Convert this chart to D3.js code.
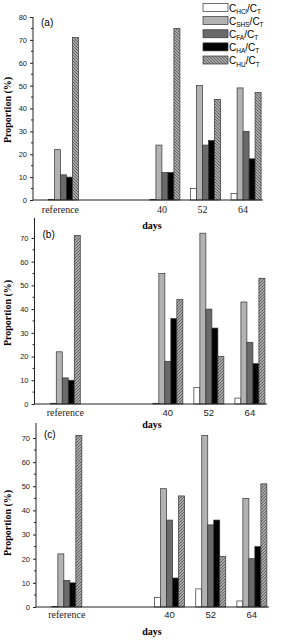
<!DOCTYPE html>
<html lang="en">
<head>
<meta charset="UTF-8">
<title>Proportion of humus fractions</title>
<style>
    body { margin: 0; padding: 0; background: #fff; }
    svg { display: block; }
    .tick text { font-family: "Liberation Sans", Arial, sans-serif; font-size: 7.5px; fill: #222; }
    .ylab { font-family: "Liberation Serif", "Times New Roman", serif; font-weight: bold; font-size: 10px; }
    .xlab { font-family: "Liberation Serif", "Times New Roman", serif; font-weight: bold; font-size: 10px; }
    .panel { font-family: "Liberation Sans", Arial, sans-serif; font-size: 10px; }
    .legend text { font-family: "Liberation Sans", Arial, sans-serif; font-size: 10px; }
</style>
</head>
<body>
<svg id="chart" width="286" height="641"></svg>
<script src="https://d3js.org/d3.v7.min.js"></script>
<script>
// categories (day of sampling, "reference" sits before day 40)
const categories = ["reference", "40", "52", "64"];
const dayPos = [10, 40, 52, 64];
const series = ["HCl", "SHS", "FA", "HA", "HU"];

// proportions (%) per series, one value per category
const panelA = {
    HCl: [0.3, 0.3, 5, 2.8],
    SHS: [22, 24, 50, 49],
    FA:  [11, 12, 24, 30],
    HA:  [10, 12, 26, 18],
    HU:  [71, 75, 44, 47]
};
const panelB = {
    HCl: [0.3, 0.3, 7, 2.5],
    SHS: [22, 55, 72, 43],
    FA:  [11, 18, 40, 26],
    HA:  [10, 36, 32, 17],
    HU:  [71, 44, 20, 53]
};
const panelC = {
    HCl: [0.2, 4, 7.5, 2.5],
    SHS: [22, 49, 71, 45],
    FA:  [11, 36, 34, 20],
    HA:  [10, 12, 36, 25],
    HU:  [71, 46, 21, 51]
};
const yTicksA = [0, 10, 20, 30, 40, 50, 60, 70, 80];
const yTicksBC = [0, 10, 20, 30, 40, 50, 60, 70];

const fills = { HCl: "#ffffff", SHS: "#b2b2b2", FA: "#6a6a6a", HA: "#000000" };

const svg = d3.select("#chart");
const defs = svg.append("defs");

// hatch patterns: back slash for (a), forward slash for (b) and (c)
function hatch(id, forward) {
    const p = defs.append("pattern")
        .attr("id", id)
        .attr("patternUnits", "userSpaceOnUse")
        .attr("width", 3).attr("height", 3);
    p.append("rect").attr("width", 3).attr("height", 3).attr("fill", "#a8a8a8");
    if (forward) {
        p.append("path").attr("d", "M-1,1 l2,-2 M0,3 l3,-3 M2,4 l2,-2");
    } else {
        p.append("path").attr("d", "M-1,2 l2,2 M0,0 l3,3 M2,-1 l2,2");
    }
    p.select("path").attr("stroke", "#444").attr("stroke-width", 0.7);
}
hatch("hatchBack", false);
hatch("hatchFwd", true);

function drawPanel(opt) {
    const x = d3.scaleLinear().domain([1, 69]).range([opt.left, opt.right]);
    const y = d3.scaleLinear().domain([0, opt.ymax]).range([opt.bottom, opt.top]);
    const g = svg.append("g");

    // bars
    const barW = 6;
    series.forEach((s, si) => {
        const vals = opt.data[s];
        g.selectAll(null)
            .data(vals)
            .enter().append("rect")
            .attr("x", (d, i) => x(dayPos[i]) - 2.5 * barW + si * barW)
            .attr("y", d => y(d))
            .attr("width", barW)
            .attr("height", d => opt.bottom - y(d))
            .attr("fill", s === "HU" ? "url(#" + opt.hatch + ")" : fills[s])
            .attr("stroke", "#333")
            .attr("stroke-width", 0.7);
    });

    // y axis with minor ticks
    const yAxis = d3.axisLeft(y).tickValues(opt.yTicks).tickSize(3).tickPadding(3);
    const ya = g.append("g").attr("transform", "translate(" + opt.left + ",0)").call(yAxis);
    ya.select(".domain").attr("d", "M0," + opt.bottom + "V" + opt.top).attr("stroke", "#222");
    ya.selectAll(".tick line").attr("stroke", "#222");
    const minor = opt.yTicks.slice(0, -1).map(v => v + 5);
    ya.selectAll(".minor")
        .data(minor)
        .enter().append("line")
        .attr("x1", -2).attr("x2", 0)
        .attr("y1", d => y(d)).attr("y2", d => y(d))
        .attr("stroke", "#222");

    // x baseline and category labels
    g.append("line")
        .attr("x1", opt.left).attr("x2", opt.right)
        .attr("y1", opt.bottom).attr("y2", opt.bottom)
        .attr("stroke", "#222");
    g.selectAll(null)
        .data(categories)
        .enter().append("text")
        .attr("x", (d, i) => x(dayPos[i]) + opt.labelDx)
        .attr("y", opt.bottom + opt.labelDy)
        .attr("text-anchor", "middle")
        .attr("font-family", (d, i) => (i === 0 || opt.serifNums) ? "'Liberation Serif', serif" : "'Liberation Sans', sans-serif")
        .attr("font-size", (d, i) => (i === 0 || opt.serifNums) ? 10 : 9.5)
        .attr("fill", "#222")
        .text(d => d);

    g.append("text").attr("class", "xlab")
        .attr("x", 152).attr("y", opt.daysY)
        .attr("text-anchor", "middle")
        .text("days");

    g.append("text").attr("class", "ylab")
        .attr("transform", "translate(" + 11 + "," + opt.ylabY + ") rotate(-90)")
        .attr("text-anchor", "middle")
        .text("Proportion (%)");

    g.append("text").attr("class", "panel")
        .attr("x", opt.left + 8).attr("y", opt.top + opt.panelDy)
        .text(opt.name);
}

drawPanel({ data: panelA, name: "(a)", left: 33, right: 263, top: 17, bottom: 200, ymax: 80,
    yTicks: yTicksA, hatch: "hatchBack", labelDx: -3, labelDy: 13, serifNums: true,
    daysY: 229, ylabY: 110, panelDy: 9 });
drawPanel({ data: panelB, name: "(b)", left: 34.5, right: 267, top: 218, bottom: 404, ymax: 78.4,
    yTicks: yTicksBC, hatch: "hatchFwd", labelDx: 0, labelDy: 12, serifNums: false,
    daysY: 428, ylabY: 313, panelDy: 20 });
drawPanel({ data: panelC, name: "(c)", left: 36, right: 269, top: 423, bottom: 607, ymax: 76.2,
    yTicks: yTicksBC, hatch: "hatchFwd", labelDx: 0, labelDy: 11, serifNums: false,
    daysY: 635, ylabY: 523, panelDy: 15 });

// legend (top right of panel a)
const legend = svg.append("g").attr("class", "legend");
const legendY = d3.scalePoint().domain(series).range([3.5, 56]);
series.forEach(s => {
    const row = legend.append("g").attr("transform", "translate(203," + legendY(s) + ")");
    row.append("rect")
        .attr("width", 25).attr("height", 8)
        .attr("fill", s === "HU" ? "url(#hatchBack)" : fills[s])
        .attr("stroke", "#333").attr("stroke-width", 0.7);
    const t = row.append("text").attr("x", 26).attr("y", 8);
    t.append("tspan").text("C");
    t.append("tspan").attr("font-size", 6.5).attr("dy", 2.5).text(s);
    t.append("tspan").attr("dy", -2.5).text("/C");
    t.append("tspan").attr("font-size", 6.5).attr("dy", 2.5).text("T");
});
</script>
</body>
</html>
